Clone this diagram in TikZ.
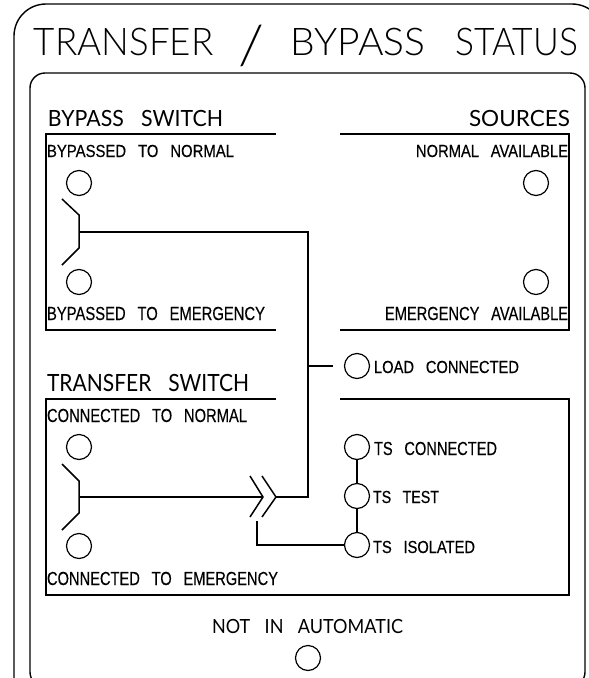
\documentclass[tikz,border=0pt]{standalone}
\usepackage{fontspec}
\usepackage{graphicx}
\setmainfont{Liberation Sans}
\newfontfamily\headfont{Lato Light}
\newfontfamily\subfont{Lato}
\newfontfamily\smallfont[FakeBold=0.35]{Liberation Sans}
\newcommand{\fitlabel}[7]{% name, font, x0, x1, ytop, ybase, text
  \pgfmathsetlengthmacro{\fitw}{(#4-#3)*1pt}%
  \pgfmathsetlengthmacro{\fith}{(#6-#5)*1pt}%
  \node[lbl] (#1) at (#3,#6) {\resizebox{\fitw}{\fith}{#2\spaceskip=.8em\relax\vphantom{H}\smash{#7}}};}
\tikzset{
  lbl/.style={anchor=base west,inner sep=0pt,outer sep=0pt,text=black},
  wire/.style={draw=black,line width=1.5pt,line join=miter},
  frame/.style={draw=black,line width=1.4pt},
  lamp/.style={circle,draw=black,line width=1.2pt,minimum size=25pt,inner sep=0pt,outer sep=0pt},
}
\begin{document}
\begin{tikzpicture}[x=1pt,y=-1pt]
\useasboundingbox (0,0) rectangle (589,678);
\fill[white] (0,0) rectangle (589,678);
% frames
\draw[frame,rounded corners=32pt] (14,720) -- (14,4) -- (604,4) -- (604,720);
\draw[frame,rounded corners=15pt] (30,687) -- (30,73) -- (585,73) -- (585,687) -- cycle;
% section rules
\draw[frame] (276,134) -- (46,134) -- (46,330) -- (276,330);
\draw[frame] (340,134) -- (569,134) -- (569,330) -- (340,330);
\draw[frame] (276,399) -- (46,399) -- (46,595) -- (569,595) -- (569,399) -- (340,399);
% lamps
\node[lamp] (bn) at (79,183) {};
\node[lamp] (be) at (79,282) {};
\node[lamp] (sn) at (536,183) {};
\node[lamp] (se) at (536,282) {};
\node[lamp] (lc) at (357,366) {};
\node[lamp] (tn) at (79,447) {};
\node[lamp] (te) at (79,546) {};
\node[lamp] (tc) at (357,447) {};
\node[lamp] (tt) at (357,496) {};
\node[lamp] (ti) at (357,545) {};
\node[lamp] (na) at (308,658) {};
% coordinates
\coordinate (bsw) at (79,232);
\coordinate (jr) at (308,232);
\coordinate (jb) at (308,497);
\coordinate (jl) at (308,366);
\coordinate (jle) at (333,366);
\coordinate (tsw) at (79,497);
\coordinate (ch1) at (263,497);
\coordinate (ch2) at (276,497);
\coordinate (iso) at (257,521);
% switches
\draw[wire] (62,199) -- (79,215) -- (79,248) -- (62,265);
\draw[wire] (62,464) -- (79,481) -- (79,513) -- (62,530);
\draw[wire] (250,476) -- (ch1) -- (250,517);
\draw[wire] (262,476) -- (ch2) -- (262,517);
% wires
\draw[wire] (bsw) -- (jr) -- (jb) -- (ch2);
\draw[wire] (jl) -- (jle);
\draw[wire] (tsw) -- (ch1);
\draw[wire] (iso) |- (ti.west);
\draw[wire] (tc) -- (tt);
\draw[wire] (tt) -- (ti);
% labels
\fitlabel{title}{\headfont}{34}{578}{28}{55}{TRANSFER\hspace{.68em}\raisebox{-.24em}{\scalebox{1.62}[1.42]{/}}\hspace{.72em}\scalebox{1.06}[1]{BYPASS} \scalebox{.965}[1]{STATUS}}
\fitlabel{hbs}{\subfont}{48}{223}{110}{126}{BYPASS SWITCH}
\fitlabel{hsrc}{\subfont}{469}{570}{110}{126}{SOURCES}
\fitlabel{hts}{\subfont}{47}{249}{374}{391}{TRANSFER SWITCH}
\fitlabel{hna}{\subfont}{212}{403}{619}{633}{NOT IN AUTOMATIC}
\fitlabel{lbn}{\smallfont}{47}{234}{145}{157}{BYPASSED TO NORMAL}
\fitlabel{lbe}{\smallfont}{47}{265}{307}{320}{BYPASSED TO EMERGENCY}
\fitlabel{lsn}{\smallfont}{416}{568}{145}{157}{NORMAL AVAILABLE}
\fitlabel{lse}{\smallfont}{385}{568}{307}{320}{EMERGENCY AVAILABLE}
\fitlabel{ltn}{\smallfont}{47}{247}{409}{422}{CONNECTED TO NORMAL}
\fitlabel{lte}{\smallfont}{47}{278}{572}{585}{CONNECTED TO EMERGENCY}
\fitlabel{llc}{\smallfont}{374}{519}{361}{373}{LOAD CONNECTED}
\fitlabel{ltc}{\smallfont}{374}{497}{442}{455}{TS CONNECTED}
\fitlabel{ltt}{\smallfont}{373}{439}{491}{503}{TS TEST}
\fitlabel{lti}{\smallfont}{373}{475}{541}{553}{TS ISOLATED}
\end{tikzpicture}
\end{document}
